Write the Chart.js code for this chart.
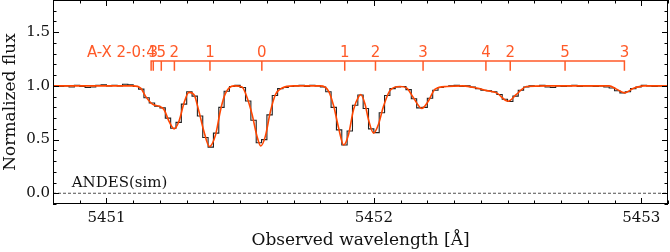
<!DOCTYPE html>
<html>
<head>
<meta charset="utf-8">
<script src="https://cdn.jsdelivr.net/npm/chart.js@4/dist/chart.umd.min.js"></script>
<style>
  html, body { margin: 0; padding: 0; background: #fff; }
  #wrap { width: 670px; height: 252px; }
</style>
</head>
<body>
<div id="wrap"><canvas id="chart"></canvas></div>
<script>
// observed spectrum, binned (bin centres start at dataStart, step binWidth)
const dataStart = 5450.81;
const binWidth = 0.02;
const dataFlux = [
  1.00, 0.995, 1.00, 0.99, 1.005, 0.995, 0.985, 0.99, 1.005, 1.01,
  1.00, 1.005, 1.00, 1.015, 1.01, 0.995, 0.97, 0.89, 0.84, 0.81,
  0.795, 0.70, 0.605, 0.66, 0.83, 0.945, 0.905, 0.72, 0.52, 0.43,
  0.56, 0.80, 0.95, 0.995, 1.005, 0.985, 0.86, 0.68, 0.47, 0.50,
  0.73, 0.91, 0.975, 0.985, 0.995, 1.00, 1.005, 0.995, 1.005, 1.00,
  0.99, 0.945, 0.80, 0.59, 0.45, 0.58, 0.82, 0.915, 0.79, 0.60,
  0.565, 0.75, 0.91, 0.975, 0.99, 0.995, 0.965, 0.88, 0.795, 0.80,
  0.885, 0.96, 0.985, 0.995, 1.00, 1.005, 0.995, 1.00, 0.99, 0.975,
  0.96, 0.955, 0.945, 0.92, 0.875, 0.855, 0.905, 0.96, 0.99, 1.00,
  0.995, 1.005, 0.99, 0.985, 1.00, 0.995, 1.00, 1.005, 0.995, 1.00,
  1.00, 0.995, 1.00, 0.99, 0.98, 0.955, 0.935, 0.945, 0.975, 0.99,
  1.005, 1.00, 0.995, 1.00, 0.995
];

// model fit
const modelWave = [
  5450.80, 5451.10, 5451.128, 5451.147, 5451.172, 5451.197, 5451.215, 5451.234,
  5451.253, 5451.271, 5451.29, 5451.308, 5451.327, 5451.346, 5451.364, 5451.385,
  5451.408, 5451.427, 5451.445, 5451.476, 5451.507, 5451.526, 5451.545, 5451.563,
  5451.577, 5451.594, 5451.613, 5451.632, 5451.657, 5451.70, 5451.80, 5451.831,
  5451.85, 5451.868, 5451.887, 5451.905, 5451.924, 5451.943, 5451.951, 5451.967,
  5451.980, 5451.999, 5452.017, 5452.036, 5452.061, 5452.098, 5452.123, 5452.148,
  5452.179, 5452.204, 5452.229, 5452.273, 5452.334, 5452.384, 5452.422, 5452.459,
  5452.502, 5452.533, 5452.571, 5452.65, 5452.88, 5452.907, 5452.938, 5452.969,
  5453.01, 5453.10
];
const modelFlux = [
  1.00, 1.00, 0.98, 0.90, 0.83, 0.81, 0.78, 0.67,
  0.60, 0.67, 0.84, 0.94, 0.92, 0.76, 0.58, 0.435,
  0.545, 0.78, 0.93, 1.00, 0.99, 0.89, 0.73, 0.53,
  0.44, 0.53, 0.76, 0.92, 0.98, 1.00, 1.00, 0.95,
  0.81, 0.61, 0.45, 0.545, 0.78, 0.90, 0.92, 0.83,
  0.685, 0.56, 0.64, 0.81, 0.96, 0.995, 0.98, 0.89,
  0.79, 0.86, 0.97, 0.995, 1.00, 0.98, 0.956, 0.935,
  0.857, 0.92, 0.995, 1.00, 1.00, 0.97, 0.935, 0.975,
  1.00, 1.00
];

// A-X 2-0 line identifications
const lineWave = [
  5451.167, 5451.175, 5451.205, 5451.254, 5451.387, 5451.581, 5451.891,
  5452.006, 5452.184, 5452.419, 5452.510, 5452.715, 5452.937
];
const lineLabels = ['4', '3', '5', '2', '1', '0', '1', '2', '3', '4', '2', '5', '3'];
const lineTitle = 'A-X 2-0:';

const xTickValues = [5451, 5452, 5453];
const yTickValues = [0, 0.5, 1.0, 1.5];

const serif = '"DejaVu Serif", serif';
const sans = '"DejaVu Sans", sans-serif';
const idColor = '#ff5a28';

let dataPoints = dataFlux.map((f, i) => ({ x: dataStart + i * binWidth, y: f }));
let modelPoints = modelWave.map((w, i) => ({ x: w, y: modelFlux[i] }));

// frame + inward ticks on all four sides
const frameTicks = {
  id: 'frameTicks',
  afterDraw(chart) {
    const { ctx, chartArea: a, scales: { x, y } } = chart;
    ctx.save();
    ctx.strokeStyle = '#000';
    ctx.lineWidth = 1;
    ctx.strokeRect(a.left + 0.5, a.top + 0.5, a.right - a.left - 1, a.bottom - a.top - 1);
    ctx.beginPath();
    for (let v = 5450.8; v <= 5453.1 + 1e-6; v += 0.1) {
      let px = Math.round(x.getPixelForValue(v)) + 0.5;
      let major = Math.abs(v - Math.round(v)) < 1e-6;
      let len = major ? 6 : 3.5;
      ctx.moveTo(px, a.bottom); ctx.lineTo(px, a.bottom - len);
      ctx.moveTo(px, a.top); ctx.lineTo(px, a.top + len);
    }
    for (let v = -0.1; v <= 1.8 + 1e-6; v += 0.1) {
      let py = Math.round(y.getPixelForValue(v)) + 0.5;
      let major = Math.abs(v * 2 - Math.round(v * 2)) < 1e-6;
      let len = major ? 6 : 3.5;
      ctx.moveTo(a.left, py); ctx.lineTo(a.left + len, py);
      ctx.moveTo(a.right, py); ctx.lineTo(a.right - len, py);
    }
    ctx.stroke();
    ctx.restore();
  }
};

// line identification ladder and the instrument label
const lineIds = {
  id: 'lineIds',
  afterDatasetsDraw(chart) {
    const { ctx, scales: { x, y } } = chart;
    let barY = Math.round(y.getPixelForValue(1.234));
    let tickY = y.getPixelForValue(1.14);
    let x0 = x.getPixelForValue(lineWave[0]);
    let x1 = x.getPixelForValue(lineWave[lineWave.length - 1]);
    ctx.save();
    ctx.strokeStyle = idColor;
    ctx.lineWidth = 1.5;
    ctx.beginPath();
    ctx.moveTo(x0 - 0.75, barY); ctx.lineTo(x1 + 0.75, barY);
    lineWave.forEach(w => {
      let px = x.getPixelForValue(w);
      ctx.moveTo(px, barY); ctx.lineTo(px, tickY);
    });
    ctx.stroke();
    ctx.fillStyle = idColor;
    ctx.font = '15px ' + sans;
    ctx.textBaseline = 'alphabetic';
    ctx.textAlign = 'center';
    lineWave.forEach((w, i) => {
      ctx.fillText(lineLabels[i], x.getPixelForValue(w), barY - 4);
    });
    ctx.textAlign = 'right';
    ctx.fillText(lineTitle, x0 - 5, barY - 4);

    ctx.fillStyle = '#111';
    ctx.font = '15px ' + serif;
    ctx.textAlign = 'left';
    ctx.textBaseline = 'middle';
    ctx.fillText('ANDES(sim)', x.getPixelForValue(5450.87), y.getPixelForValue(0.095));
    ctx.restore();
  }
};

new Chart(document.getElementById('chart'), {
  type: 'line',
  data: {
    datasets: [
      {
        label: 'model',
        data: modelPoints,
        borderColor: '#ff4500',
        borderWidth: 1.6,
        pointRadius: 0,
        cubicInterpolationMode: 'monotone'
      },
      {
        label: 'data',
        data: dataPoints,
        stepped: 'middle',
        borderColor: '#222',
        borderWidth: 1.1,
        pointRadius: 0
      },
      {
        label: 'zero',
        data: [{ x: 5450.8, y: 0 }, { x: 5453.1, y: 0 }],
        borderColor: '#222',
        borderWidth: 0.8,
        borderDash: [3, 2],
        pointRadius: 0
      }
    ]
  },
  options: {
    responsive: true,
    maintainAspectRatio: false,
    animation: false,
    devicePixelRatio: 1,
    layout: { padding: { left: 0, right: 2, top: 0, bottom: 0 } },
    plugins: { legend: { display: false }, tooltip: { enabled: false } },
    scales: {
      x: {
        type: 'linear',
        min: 5450.8,
        max: 5453.1,
        afterBuildTicks: s => { s.ticks = xTickValues.map(v => ({ value: v })); },
        afterFit: s => { s.height = 48; s.paddingLeft = 0; s.paddingRight = 0; },
        grid: { display: false, drawTicks: false },
        border: { display: false },
        ticks: { color: '#111', font: { family: serif, size: 15 }, padding: 5, maxRotation: 0,
                 callback: v => String(v) },
        title: { display: true, text: 'Observed wavelength [Å]', color: '#111',
                 font: { family: serif, size: 17 }, padding: { top: 0, bottom: 1 } }
      },
      y: {
        min: -0.1,
        max: 1.8,
        afterBuildTicks: s => { s.ticks = yTickValues.map(v => ({ value: v })); },
        afterFit: s => { s.width = 53; s.paddingTop = 0; s.paddingBottom = 0; },
        grid: { display: false, drawTicks: false },
        border: { display: false },
        ticks: { color: '#111', font: { family: serif, size: 15 }, padding: 3,
                 callback: v => v.toFixed(1) },
        title: { display: true, text: 'Normalized flux', color: '#111',
                 font: { family: serif, size: 17 }, padding: { top: 0, bottom: 0 } }
      }
    }
  },
  plugins: [frameTicks, lineIds]
});
</script>
</body>
</html>
